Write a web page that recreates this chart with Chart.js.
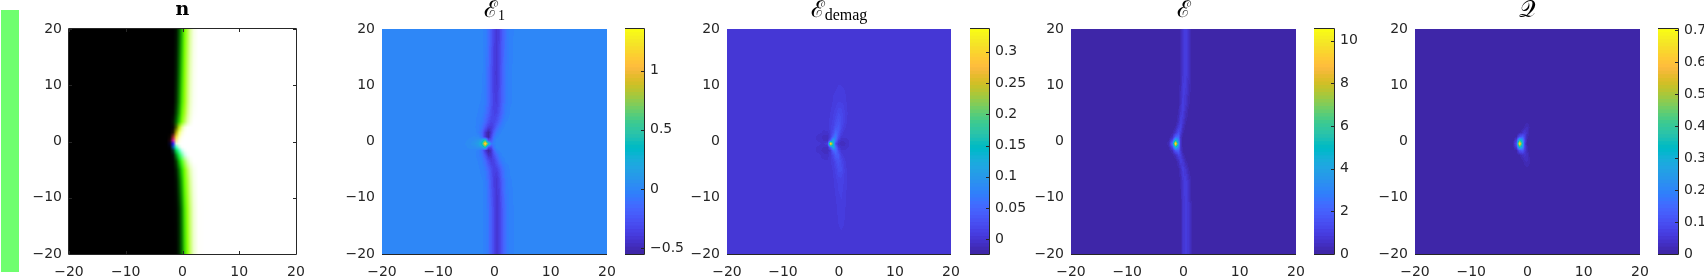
<!DOCTYPE html>
<html>
<head>
<meta charset="utf-8">
<script src="https://cdn.jsdelivr.net/npm/chart.js@4"></script>
<style>
  html, body { margin: 0; padding: 0; background: #fff; }
  body { position: relative; width: 1704px; height: 277px; overflow: hidden; }
  canvas { position: absolute; }
</style>
</head>
<body>
<script>
// parula, 64 levels
const parula = [[0.2422,0.1504,0.6603],[0.2504,0.1650,0.7076],[0.2578,0.1818,0.7511],[0.2647,0.1978,0.7952],[0.2706,0.2147,0.8364],[0.2751,0.2342,0.8710],[0.2783,0.2559,0.8991],[0.2803,0.2782,0.9221],[0.2813,0.3006,0.9414],[0.2810,0.3228,0.9579],[0.2795,0.3447,0.9717],[0.2760,0.3667,0.9829],[0.2699,0.3892,0.9906],[0.2602,0.4123,0.9952],[0.2440,0.4358,0.9988],[0.2206,0.4603,0.9973],[0.1963,0.4847,0.9892],[0.1834,0.5074,0.9798],[0.1786,0.5289,0.9682],[0.1764,0.5499,0.9520],[0.1687,0.5703,0.9359],[0.1540,0.5902,0.9218],[0.1460,0.6091,0.9079],[0.1380,0.6276,0.8973],[0.1248,0.6459,0.8883],[0.1113,0.6635,0.8763],[0.0952,0.6798,0.8598],[0.0689,0.6948,0.8394],[0.0297,0.7082,0.8163],[0.0036,0.7203,0.7917],[0.0067,0.7312,0.7660],[0.0433,0.7411,0.7394],[0.0964,0.7500,0.7120],[0.1408,0.7584,0.6842],[0.1717,0.7670,0.6554],[0.1938,0.7758,0.6251],[0.2161,0.7843,0.5923],[0.2470,0.7918,0.5567],[0.2906,0.7973,0.5188],[0.3406,0.8008,0.4789],[0.3909,0.8029,0.4354],[0.4456,0.8024,0.3909],[0.5044,0.7993,0.3480],[0.5616,0.7942,0.3045],[0.6174,0.7876,0.2612],[0.6720,0.7793,0.2227],[0.7242,0.7698,0.1910],[0.7738,0.7598,0.1646],[0.8203,0.7498,0.1535],[0.8634,0.7406,0.1596],[0.9035,0.7330,0.1774],[0.9393,0.7288,0.2100],[0.9728,0.7298,0.2394],[0.9956,0.7434,0.2371],[0.9970,0.7659,0.2199],[0.9952,0.7893,0.2028],[0.9892,0.8136,0.1885],[0.9786,0.8386,0.1766],[0.9676,0.8639,0.1643],[0.9610,0.8890,0.1537],[0.9597,0.9135,0.1423],[0.9628,0.9373,0.1265],[0.9691,0.9606,0.1064],[0.9769,0.9839,0.0805]];

// tick labels
const axisTicks = [-20, -10, 0, 10, 20];
const barTicksE1 = [-0.5, 0, 0.5, 1];
const barTicksDemag = [0, 0.05, 0.1, 0.15, 0.2, 0.25, 0.3];
const barTicksE = [0, 2, 4, 6, 8, 10];
const barTicksQ = [0, 0.1, 0.2, 0.3, 0.4, 0.5, 0.6, 0.7];

// sample positions, read finer around the wall and the core
const ys = [20, 12, 7, 5, 3.5, 2.5, 1.6, 0.8, 0.2, -0.4, -1, -1.6, -2.4, -3.5, -5, -7, -12, -20];
const xsCoreLeft = [-20, -6, -4.5, -3.5, -2.8, -2.2, -1.65, -1.1, -0.6, -0.1, 0.4, 0.9, 1.4, 2, 2.8, 4, 20];
const xsCoreMid = [-20, -6, -4.5, -3.5, -2.7, -2, -1.5, -1, -0.6, -0.1, 0.4, 0.9, 1.4, 2, 2.8, 4, 20];
const xsCoreRight = [-20, -6, -4.5, -3.5, -2.6, -1.95, -1.4, -0.9, -0.5, -0.1, 0.4, 0.9, 1.4, 2, 2.8, 4, 20];

// n, one array per colour channel
const nR = [
  [0,0,0,0,0,0,0,0,.01,.14,.46,.7,.87,.97,1,1,1],
  [0,0,0,0,0,0,0,0,.03,.23,.55,.77,.91,.98,1,1,1],
  [0,0,0,0,0,0,0,.01,.07,.3,.6,.8,.93,.98,1,1,1],
  [0,0,0,0,0,0,0,.01,.12,.4,.67,.85,.95,.99,1,1,1],
  [0,0,0,0,0,0,0,.02,.2,.52,.75,.9,.97,1,1,1,1],
  [0,0,0,0,0,0,.03,.3,.75,.9,.97,1,1,1,1,1,1],
  [0,0,0,0,0,0,.12,.7,.95,.98,1,1,1,1,1,1,1],
  [0,0,0,0,0,.05,.6,.95,1,1,1,1,1,1,1,1,1],
  [0,0,0,0,0,.12,.8,.98,1,1,1,1,1,1,1,1,1],
  [0,0,0,0,0,.02,.15,.9,1,1,1,1,1,1,1,1,1],
  [0,0,0,0,0,0,0,.25,.8,.98,1,1,1,1,1,1,1],
  [0,0,0,0,0,0,0,.02,.3,.75,.95,1,1,1,1,1,1],
  [0,0,0,0,0,0,0,.01,.1,.45,.8,.95,1,1,1,1,1],
  [0,0,0,0,0,0,0,.01,.05,.3,.65,.85,.96,1,1,1,1],
  [0,0,0,0,0,0,0,0,.02,.15,.5,.75,.9,.97,1,1,1],
  [0,0,0,0,0,0,0,0,.01,.12,.42,.68,.86,.96,1,1,1],
  [0,0,0,0,0,0,0,0,0,.05,.3,.6,.8,.94,1,1,1],
  [0,0,0,0,0,0,0,0,0,.03,.25,.55,.78,.93,1,1,1]
];
const nG = [
  [0,0,0,0,0,0,0,.06,.33,.7,1,1,1,1,1,1,1],
  [0,0,0,0,0,0,0,.12,.44,.82,1,1,1,1,1,1,1],
  [0,0,0,0,0,0,0,.18,.52,.9,1,1,1,1,1,1,1],
  [0,0,0,0,0,0,.02,.27,.62,.96,1,1,1,1,1,1,1],
  [0,0,0,0,0,0,.08,.4,.78,1,1,1,1,1,1,1,1],
  [0,0,0,0,0,0,.03,.4,.9,1,1,1,1,1,1,1,1],
  [0,0,0,0,0,0,.08,.65,1,1,1,1,1,1,1,1,1],
  [0,0,0,0,0,.02,.15,.85,1,1,1,1,1,1,1,1,1],
  [0,0,0,0,0,.02,.1,.9,1,1,1,1,1,1,1,1,1],
  [0,0,0,0,0,.02,.1,.95,1,1,1,1,1,1,1,1,1],
  [0,0,0,0,0,.01,.35,1,1,1,1,1,1,1,1,1,1],
  [0,0,0,0,0,0,.2,.85,1,1,1,1,1,1,1,1,1],
  [0,0,0,0,0,0,.06,.55,.95,1,1,1,1,1,1,1,1],
  [0,0,0,0,0,0,.02,.25,.72,1,1,1,1,1,1,1,1],
  [0,0,0,0,0,0,0,.12,.45,.85,1,1,1,1,1,1,1],
  [0,0,0,0,0,0,0,.06,.33,.7,1,1,1,1,1,1,1],
  [0,0,0,0,0,0,0,.02,.17,.52,.9,1,1,1,1,1,1],
  [0,0,0,0,0,0,0,.01,.14,.45,.85,1,1,1,1,1,1]
];
const nB = [
  [0,0,0,0,0,0,0,0,0,0,0,.27,.63,.9,1,1,1],
  [0,0,0,0,0,0,0,0,0,0,.03,.39,.73,.93,1,1,1],
  [0,0,0,0,0,0,0,0,0,0,.06,.45,.78,.95,1,1,1],
  [0,0,0,0,0,0,0,0,0,0,.15,.55,.83,.97,1,1,1],
  [0,0,0,0,0,0,0,0,0,.03,.35,.7,.9,1,1,1,1],
  [0,0,0,0,0,0,0,0,.05,.55,.88,.98,1,1,1,1,1],
  [0,0,0,0,0,0,0,.02,.4,.8,.95,1,1,1,1,1,1],
  [0,0,0,0,0,0,.15,.25,.7,.93,1,1,1,1,1,1,1],
  [0,0,0,0,0,.05,.6,.55,.88,.98,1,1,1,1,1,1,1],
  [0,0,0,0,0,.15,.95,.85,.95,1,1,1,1,1,1,1,1],
  [0,0,0,0,0,.05,.65,.75,.9,.98,1,1,1,1,1,1,1],
  [0,0,0,0,0,0,.15,.35,.7,.92,.98,1,1,1,1,1,1],
  [0,0,0,0,0,0,.02,.1,.3,.65,.9,.99,1,1,1,1,1],
  [0,0,0,0,0,0,0,0,.02,.12,.4,.72,.92,1,1,1,1],
  [0,0,0,0,0,0,0,0,0,0,.03,.38,.72,.93,1,1,1],
  [0,0,0,0,0,0,0,0,0,0,0,.25,.62,.9,1,1,1],
  [0,0,0,0,0,0,0,0,0,0,0,.1,.47,.83,.99,1,1],
  [0,0,0,0,0,0,0,0,0,0,0,.05,.4,.8,.98,1,1]
];

const valuesE1 = [
  [0,0,0,0,0,-.01,-.03,-.1,-.22,-.35,-.42,-.35,-.22,-.1,-.03,0,0],
  [0,0,0,0,0,-.01,-.05,-.13,-.26,-.38,-.42,-.32,-.19,-.08,-.02,0,0],
  [0,0,0,0,-.01,-.02,-.06,-.14,-.26,-.36,-.38,-.3,-.17,-.07,-.02,0,0],
  [0,0,0,-.005,-.02,-.04,-.09,-.18,-.29,-.35,-.34,-.25,-.14,-.05,-.01,0,0],
  [0,0,0,-.01,-.03,-.06,-.14,-.26,-.34,-.34,-.27,-.17,-.08,-.02,0,0,0],
  [0,0,0,-.01,-.04,-.1,-.24,-.38,-.4,-.3,-.17,-.08,-.03,0,0,0,0],
  [0,0,.01,0,-.05,-.16,-.4,-.55,-.42,-.2,-.07,-.03,0,0,0,0,0],
  [0,0,.01,.02,0,-.12,-.42,-.55,-.35,-.1,-.03,0,0,.01,0,0,0],
  [0,0,.02,.05,.1,.2,.5,-.25,-.25,-.05,0,.01,.01,0,0,0,0],
  [0,0,.03,.08,.15,.4,1.35,.5,-.05,-.03,0,.01,.01,0,0,0,0],
  [0,0,.02,.04,.08,.12,.45,-.28,-.32,-.08,0,.01,0,0,0,0,0],
  [0,0,.01,0,-.03,-.14,-.4,-.55,-.46,-.18,-.04,-.01,0,0,0,0,0],
  [0,0,0,-.01,-.04,-.1,-.26,-.46,-.44,-.28,-.14,-.05,-.01,0,0,0,0],
  [0,0,0,0,-.02,-.05,-.13,-.28,-.38,-.36,-.24,-.12,-.05,-.01,0,0,0],
  [0,0,0,0,-.01,-.03,-.07,-.16,-.28,-.36,-.36,-.26,-.13,-.05,-.01,0,0],
  [0,0,0,0,0,-.01,-.04,-.12,-.25,-.37,-.42,-.33,-.18,-.07,-.02,0,0],
  [0,0,0,0,0,-.01,-.03,-.09,-.2,-.33,-.42,-.37,-.23,-.1,-.03,0,0],
  [0,0,0,0,0,-.01,-.03,-.09,-.2,-.33,-.42,-.37,-.23,-.1,-.03,0,0]
];
const valuesDemag = [
  [0,0,0,0,0,0,0,0,0,0,0,0,0,0,0,0,0],
  [0,0,0,0,0,0,0,0,0,.001,.001,0,0,0,0,0,0],
  [0,0,0,0,0,0,.002,.006,.008,.01,.01,.009,.004,0,0,0,0],
  [0,0,0,0,0,.001,.005,.01,.013,.022,.02,.012,.006,0,0,0,0],
  [0,0,0,0,0,.002,.008,.012,.022,.03,.022,.012,.005,0,0,0,0],
  [0,0,0,0,0,.002,.009,.016,.03,.035,.02,.008,.002,0,0,0,0],
  [0,0,0,0,-.002,-.002,.006,.025,.05,.035,.012,.002,0,0,0,0,0],
  [0,0,0,-.003,-.01,-.01,.008,.05,.07,.025,.002,0,0,0,0,0,0],
  [0,0,0,-.002,-.008,-.01,.04,.12,.06,.008,-.005,-.006,-.002,0,0,0,0],
  [0,0,0,0,-.002,.01,.336,.14,.02,-.004,-.012,-.01,-.004,0,0,0,0],
  [0,0,0,-.002,-.007,-.01,.05,.13,.06,.006,-.005,-.005,-.002,0,0,0,0],
  [0,0,0,-.003,-.012,-.012,.005,.05,.06,.02,0,0,0,0,0,0,0],
  [0,0,0,0,-.004,-.004,.004,.02,.04,.035,.01,.002,0,0,0,0,0],
  [0,0,0,0,0,0,.004,.01,.022,.032,.02,.008,.002,0,0,0,0],
  [0,0,0,0,0,0,.002,.006,.012,.024,.024,.012,.004,0,0,0,0],
  [0,0,0,0,0,0,.001,.004,.008,.012,.013,.01,.005,.001,0,0,0],
  [0,0,0,0,0,0,0,0,.002,.007,.009,.007,.002,0,0,0,0],
  [0,0,0,0,0,0,0,0,0,0,0,0,0,0,0,0,0]
];
const valuesE = [
  [0,0,0,0,0,0,0,.02,.2,.75,.95,.55,.12,.01,0,0,0],
  [0,0,0,0,0,0,0,.02,.2,.75,.95,.55,.12,.01,0,0,0],
  [0,0,0,0,0,0,0,.08,.45,.95,.7,.25,.05,0,0,0,0],
  [0,0,0,0,0,0,.02,.2,.75,.9,.4,.1,.02,0,0,0,0],
  [0,0,0,0,0,0,.06,.4,1,.7,.2,.04,0,0,0,0,0],
  [0,0,0,0,0,.02,.2,.85,1.1,.4,.08,0,0,0,0,0,0],
  [0,0,0,0,0,.1,.6,1.4,.9,.2,.03,0,0,0,0,0,0],
  [0,0,0,0,.03,.4,2,2.2,.5,.06,0,0,0,0,0,0,0],
  [0,0,0,0,.15,1.3,5,3,.5,.05,0,0,0,0,0,0,0],
  [0,0,0,.02,.3,2.5,10.55,4,.5,.04,0,0,0,0,0,0,0],
  [0,0,0,0,.15,1.3,4.8,3,.6,.06,0,0,0,0,0,0,0],
  [0,0,0,0,.03,.4,1.8,2,.7,.1,0,0,0,0,0,0,0],
  [0,0,0,0,0,.08,.4,1.1,1,.3,.05,0,0,0,0,0,0],
  [0,0,0,0,0,0,.06,.4,.95,.75,.2,.03,0,0,0,0,0],
  [0,0,0,0,0,0,0,.08,.45,.95,.65,.2,.03,0,0,0,0],
  [0,0,0,0,0,0,0,.03,.2,.75,.95,.5,.1,0,0,0,0],
  [0,0,0,0,0,0,0,0,.12,.6,.95,.7,.2,.02,0,0,0],
  [0,0,0,0,0,0,0,0,.12,.6,.95,.7,.2,.02,0,0,0]
];
const valuesQ = [
  [0,0,0,0,0,0,0,0,0,0,0,0,0,0,0,0,0],
  [0,0,0,0,0,0,0,0,0,0,0,0,0,0,0,0,0],
  [0,0,0,0,0,0,0,0,0,0,0,0,0,0,0,0,0],
  [0,0,0,0,0,0,0,0,0,0,0,0,0,0,0,0,0],
  [0,0,0,0,0,0,0,0,.002,.01,.006,0,0,0,0,0,0],
  [0,0,0,0,0,0,0,.003,.015,.025,.01,0,0,0,0,0,0],
  [0,0,0,0,0,0,.005,.03,.05,.03,.005,0,0,0,0,0,0],
  [0,0,0,0,0,.01,.1,.13,.07,.02,0,0,0,0,0,0,0],
  [0,0,0,0,0,.06,.38,.25,.08,.01,0,0,0,0,0,0,0],
  [0,0,0,0,.002,.1,.703,.32,.06,.01,0,0,0,0,0,0,0],
  [0,0,0,0,0,.06,.35,.24,.07,.015,0,0,0,0,0,0,0],
  [0,0,0,0,0,.01,.1,.12,.06,.02,0,0,0,0,0,0,0],
  [0,0,0,0,0,0,.01,.03,.04,.03,.008,0,0,0,0,0,0],
  [0,0,0,0,0,0,0,.005,.02,.025,.012,0,0,0,0,0,0],
  [0,0,0,0,0,0,0,0,.002,.006,.006,0,0,0,0,0,0],
  [0,0,0,0,0,0,0,0,0,0,0,0,0,0,0,0,0],
  [0,0,0,0,0,0,0,0,0,0,0,0,0,0,0,0,0],
  [0,0,0,0,0,0,0,0,0,0,0,0,0,0,0,0,0]
];

const textColor = "#262626";
const tickFont = { family: "'DejaVu Sans'", size: 14 };
const pageH = 277;
const scriptFont = "23px 'DejaVu Serif'";

const panels = [
  { left: 69, right: 296, top: 29, bottom: 254, xs: xsCoreLeft, rgb: [nR, nG, nB], box: true,
    title: [{ t: "n", font: "bold 19px 'DejaVu Serif'", dy: 0 }], titleY: 15 },
  { left: 382, right: 607, top: 29, bottom: 254, xs: xsCoreLeft, z: valuesE1, min: -0.55, max: 1.353,
    barLeft: 625, barRight: 644, barTicks: barTicksE1,
    title: [{ t: "ℰ", font: scriptFont, dy: 0 }, { t: "1", font: "14px 'Liberation Serif'", dy: 3 }], titleY: 17 },
  { left: 727, right: 951, top: 29, bottom: 254, xs: xsCoreMid, z: valuesDemag, min: -0.0235, max: 0.3365,
    barLeft: 970, barRight: 989, barTicks: barTicksDemag,
    title: [{ t: "ℰ", font: scriptFont, dy: 0 }, { t: "demag", font: "16px 'Liberation Serif'", dy: 3 }], titleY: 17 },
  { left: 1071, right: 1296, top: 29, bottom: 254, xs: xsCoreRight, z: valuesE, min: 0, max: 10.55,
    barLeft: 1314, barRight: 1334, barTicks: barTicksE,
    title: [{ t: "ℰ", font: scriptFont, dy: 0 }], titleY: 17 },
  { left: 1415, right: 1640, top: 29, bottom: 254, xs: xsCoreRight, z: valuesQ, min: 0, max: 0.703,
    barLeft: 1658, barRight: 1678, barTicks: barTicksQ,
    title: [{ t: "𝒬", font: scriptFont, dy: 0 }], titleY: 17 }
];

function addCanvas(left, top, width, height) {
  const c = document.createElement("canvas");
  c.width = width;
  c.height = height;
  c.style.left = left + "px";
  c.style.top = top + "px";
  c.style.width = width + "px";
  c.style.height = height + "px";
  document.body.appendChild(c);
  return c;
}

function minusSign(v) {
  return String(v).replace("-", "\u2212");
}

// index of the cell holding v; the step tells which way the array runs
function cellOf(arr, v, step) {
  for (let i = 0; i < arr.length - 1; i++) {
    if (step > 0 ? v <= arr[i + 1] : v >= arr[i + 1]) return i;
  }
  return arr.length - 2;
}

function sample(m, i, j, fx, fy) {
  const a = m[j][i] * (1 - fx) + m[j][i + 1] * fx;
  const b = m[j + 1][i] * (1 - fx) + m[j + 1][i + 1] * fx;
  return a * (1 - fy) + b * fy;
}

// paints the field with shading interp, pixel by pixel through the chart's scales
const fieldLayer = {
  id: "fieldLayer",
  beforeDatasetsDraw(chart) {
    const ds = chart.data.datasets[0];
    const area = chart.chartArea;
    const x = chart.scales.x, y = chart.scales.y;
    const w = Math.round(area.right - area.left), h = Math.round(area.bottom - area.top);
    const img = chart.ctx.createImageData(w, h);
    let k = 0;
    for (let py = 0; py < h; py++) {
      const vy = y.getValueForPixel(area.top + py + 0.5);
      const j = cellOf(ds.ys, vy, -1);
      const fy = (vy - ds.ys[j]) / (ds.ys[j + 1] - ds.ys[j]);
      for (let px = 0; px < w; px++) {
        const vx = x.getValueForPixel(area.left + px + 0.5);
        const i = cellOf(ds.xs, vx, 1);
        const fx = (vx - ds.xs[i]) / (ds.xs[i + 1] - ds.xs[i]);
        let r, g, b;
        if (ds.rgb) {
          r = sample(ds.rgb[0], i, j, fx, fy);
          g = sample(ds.rgb[1], i, j, fx, fy);
          b = sample(ds.rgb[2], i, j, fx, fy);
        } else {
          const v = sample(ds.z, i, j, fx, fy);
          const idx = Math.max(0, Math.min(63, Math.floor((v - ds.zMin) / (ds.zMax - ds.zMin) * 64)));
          [r, g, b] = parula[idx];
        }
        img.data[k++] = r * 255;
        img.data[k++] = g * 255;
        img.data[k++] = b * 255;
        img.data[k++] = 255;
      }
    }
    chart.ctx.putImageData(img, Math.round(area.left), Math.round(area.top));
  }
};

// box and inward ticks; panel n keeps its full box, the others only the bottom line
const frameLayer = {
  id: "frameLayer",
  afterDatasetsDraw(chart, args, opts) {
    if (!opts.mode) return;
    const ctx = chart.ctx, a = chart.chartArea;
    ctx.save();
    ctx.strokeStyle = textColor;
    ctx.lineWidth = 1;
    ctx.beginPath();
    if (opts.mode === "bottom") {
      ctx.moveTo(a.left, a.bottom + 0.5);
      ctx.lineTo(a.right, a.bottom + 0.5);
    } else {
      ctx.rect(a.left - 0.5, a.top - 0.5, a.right - a.left + 1, a.bottom - a.top + 1);
    }
    const tl = 3;
    if (opts.mode === "box") {
      for (const t of chart.scales.x.ticks) {
        const p = Math.round(chart.scales.x.getPixelForValue(t.value)) + 0.5;
        ctx.moveTo(p, a.top); ctx.lineTo(p, a.top + tl);
        ctx.moveTo(p, a.bottom); ctx.lineTo(p, a.bottom - tl);
      }
      for (const t of chart.scales.y.ticks) {
        const p = Math.round(chart.scales.y.getPixelForValue(t.value)) + 0.5;
        ctx.moveTo(a.left, p); ctx.lineTo(a.left + tl, p);
        ctx.moveTo(a.right, p); ctx.lineTo(a.right - tl, p);
      }
    }
    if (opts.mode === "bar") {
      for (const t of chart.scales.y.ticks) {
        const p = Math.round(chart.scales.y.getPixelForValue(t.value)) + 0.5;
        ctx.moveTo(a.right, p); ctx.lineTo(a.right - tl, p);
      }
    }
    ctx.stroke();
    ctx.restore();
  }
};

// math titles: main letter plus a lowered subscript, centred over the axes
const mathTitle = {
  id: "mathTitle",
  afterDraw(chart) {
    const parts = chart.data.datasets[0].titleParts;
    if (!parts) return;
    const ctx = chart.ctx, a = chart.chartArea;
    ctx.save();
    ctx.fillStyle = "#000";
    ctx.textBaseline = "alphabetic";
    ctx.textAlign = "left";
    let total = 0;
    for (const p of parts) { ctx.font = p.font; total += ctx.measureText(p.t).width; }
    let x = (a.left + a.right) / 2 - total / 2;
    for (const p of parts) {
      ctx.font = p.font;
      ctx.fillText(p.t, x, chart.data.datasets[0].titleY + p.dy);
      x += ctx.measureText(p.t).width;
    }
    ctx.restore();
  }
};

function fieldChart(p) {
  const pad = 60, right = 16;
  const canvas = addCanvas(p.left - pad, 0, p.right - p.left + pad + right, pageH);
  const points = [];
  ys.forEach((vy, j) => p.xs.forEach((vx, i) => {
    points.push({ x: vx, y: vy, v: p.z ? p.z[j][i] : p.rgb[0][j][i] });
  }));
  new Chart(canvas.getContext("2d"), {
    type: "scatter",
    plugins: [fieldLayer, frameLayer, mathTitle],
    data: {
      datasets: [{
        data: points, pointRadius: 0,
        xs: p.xs, ys: ys, z: p.z, rgb: p.rgb, zMin: p.min, zMax: p.max,
        titleParts: p.title, titleY: p.titleY
      }]
    },
    options: {
      responsive: false,
      animation: false,
      layout: { padding: { left: 0, right: right, top: p.top, bottom: 0 } },
      plugins: {
        legend: { display: false },
        tooltip: { enabled: false },
        frameLayer: { mode: p.box ? "box" : "bottom" }
      },
      scales: {
        x: {
          min: -20, max: 20,
          afterBuildTicks(s) { s.ticks = axisTicks.map(value => ({ value })); },
          afterFit(s) { s.height = pageH - p.bottom; s.paddingLeft = 0; s.paddingRight = 0; },
          grid: { display: false, drawTicks: false },
          border: { display: false },
          ticks: { callback: minusSign, font: tickFont, color: textColor, padding: 10, maxRotation: 0, autoSkip: false }
        },
        y: {
          min: -20, max: 20,
          afterBuildTicks(s) { s.ticks = axisTicks.map(value => ({ value })); },
          afterFit(s) { s.width = pad; s.paddingTop = 0; s.paddingBottom = 0; },
          grid: { display: false, drawTicks: false },
          border: { display: false },
          ticks: { callback: minusSign, font: tickFont, color: textColor, padding: 7, autoSkip: false }
        }
      }
    }
  });
}

function colorBar(p) {
  const labelRoom = 46;
  const canvas = addCanvas(p.barLeft, 0, p.barRight - p.barLeft + labelRoom, pageH);
  // first dataset lands on top, so each level runs from the axis floor up to its own top
  const datasets = parula.map((c, k) => ({
    data: [[p.min, p.min + (k + 1) * (p.max - p.min) / 64]],
    backgroundColor: "rgb(" + c.map(u => Math.round(u * 255)).join(",") + ")",
    barPercentage: 1,
    categoryPercentage: 1,
    grouped: false
  }));
  new Chart(canvas.getContext("2d"), {
    type: "bar",
    plugins: [frameLayer],
    data: { labels: [""], datasets: datasets },
    options: {
      responsive: false,
      animation: false,
      layout: { padding: { left: 0, right: 0, top: p.top, bottom: pageH - p.bottom } },
      plugins: {
        legend: { display: false },
        tooltip: { enabled: false },
        frameLayer: { mode: "bar" }
      },
      scales: {
        x: { display: false },
        y: {
          position: "right",
          min: p.min, max: p.max,
          afterBuildTicks(s) { s.ticks = p.barTicks.map(value => ({ value })); },
          afterFit(s) { s.width = labelRoom; s.paddingTop = 0; s.paddingBottom = 0; },
          grid: { display: false, drawTicks: false },
          border: { display: false },
          ticks: { callback: minusSign, font: tickFont, color: textColor, padding: 6, autoSkip: false }
        }
      }
    }
  });
}

// the light green strip at the far left of the figure
function sideStrip() {
  const canvas = addCanvas(1, 10, 18, 262);
  new Chart(canvas.getContext("2d"), {
    type: "bar",
    data: { labels: [""], datasets: [{ data: [1], backgroundColor: "#6fff6f", barPercentage: 1, categoryPercentage: 1 }] },
    options: {
      responsive: false,
      animation: false,
      plugins: { legend: { display: false }, tooltip: { enabled: false } },
      scales: { x: { display: false }, y: { display: false, min: 0, max: 1 } }
    }
  });
}

sideStrip();
panels.forEach(p => {
  fieldChart(p);
  if (p.barTicks) colorBar(p);
});
</script>
</body>
</html>
